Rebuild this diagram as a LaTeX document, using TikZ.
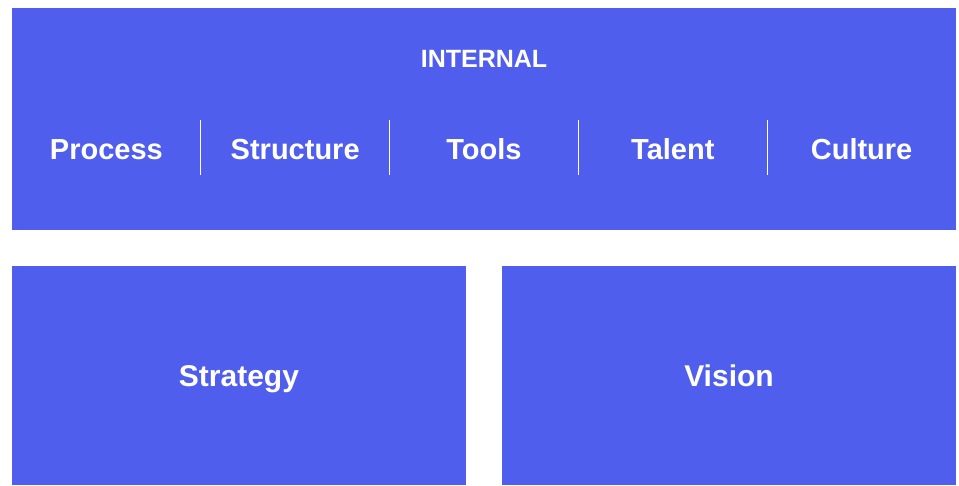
\documentclass[tikz,border=0pt]{standalone}
\usepackage{fontspec}
\setmainfont{Liberation Sans}
\definecolor{brandblue}{RGB}{80,94,238}
\tikzset{
  panel/.style={rectangle,fill=brandblue,inner sep=0pt},
  label/.style={text=white,font=\bfseries,anchor=base,inner sep=0pt}
}
\begin{document}
\begin{tikzpicture}[x=1pt,y=1pt]
  \useasboundingbox (0,0) rectangle (959,485);
  % Column width inside the top panel
  \def\colsep{188.8}

  % Top panel
  \node[panel,minimum width=944pt,minimum height=222pt] (internal) at (484,366) {};
  \node[label,font=\bfseries\fontsize{25}{30}\selectfont] (internal-title) at (484,417.5) {INTERNAL};

  % Columns
  \foreach \name [count=\i] in {Process,Structure,Tools,Talent,Culture}
    \node[label,font=\bfseries\fontsize{29}{35}\selectfont] (col-\i) at (12+\i*\colsep-0.5*\colsep,325) {\name};

  % Dividers between columns
  \foreach \i in {1,2,3,4} {
    \coordinate (div-top-\i) at (12+\i*\colsep,365);
    \coordinate (div-bot-\i) at (12+\i*\colsep,310);
    \draw[white,line width=1pt] (div-top-\i) -- (div-bot-\i);
  }

  % Bottom panels
  \node[panel,minimum width=454pt,minimum height=219pt] (strategy) at (239,109.5) {};
  \node[panel,minimum width=454pt,minimum height=219pt] (vision) at (729,109.5) {};
  \node[label,font=\bfseries\fontsize{30}{36}\selectfont] at (239,98) {Strategy};
  \node[label,font=\bfseries\fontsize{30}{36}\selectfont] at (729,98) {Vision};
\end{tikzpicture}
\end{document}
